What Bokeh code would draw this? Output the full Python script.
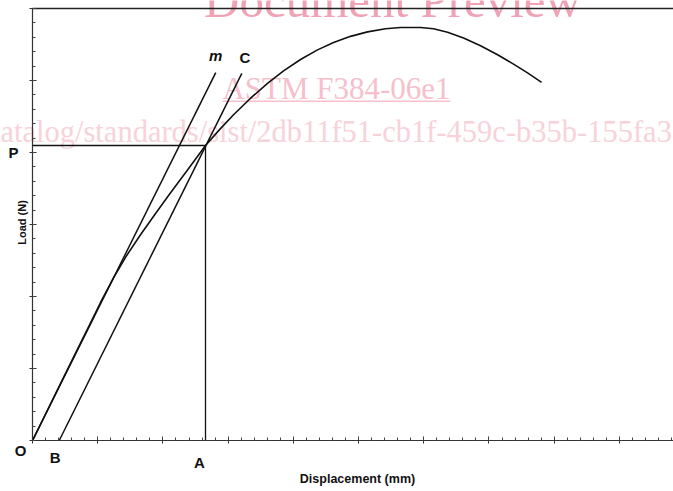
import math
from bokeh.plotting import figure
from bokeh.models import Label, SingleIntervalTicker, FixedTicker, LinearAxis, BoxAnnotation
from bokeh.embed import file_html
from bokeh.resources import INLINE

# ---- data ----
# load-displacement curve
disp = [0, 0.215, 0.429, 0.660, 0.890, 1.043, 1.242, 1.442, 1.656, 1.887, 2.117,
        2.377, 2.653, 2.868, 3.083, 3.344, 3.604, 3.850, 4.110, 4.371, 4.617,
        4.877, 5.138, 5.414, 5.644, 5.951, 6.150, 6.365, 6.610, 6.871, 7.132,
        7.377, 7.592, 7.807]
load = [0, 0.394, 0.789, 1.213, 1.635, 1.917, 2.260, 2.567, 2.858, 3.154, 3.442,
        3.756, 4.097, 4.318, 4.524, 4.754, 4.961, 5.133, 5.292, 5.425, 5.528,
        5.613, 5.675, 5.718, 5.736, 5.736, 5.718, 5.671, 5.590, 5.482, 5.357,
        5.228, 5.106, 4.975]

# tangent line m (through O) and offset line C (through B, parallel to m)
m_x = [0.0, 2.81]
m_y = [0.0, 5.11]
c_x = [0.41, 3.21]
c_y = [0.0, 5.10]

# point where C meets the curve
A_x = 2.653
P_y = 4.097

x_max = 9.83   # right end of the displacement axis
y_max = 6      # top of the load axis

INK = "#111111"
FONT = "Liberation Sans"
SERIF = "Liberation Serif"

p = figure(width=673, height=491,
           x_range=(-0.491, x_max), y_range=(-0.708, 6.111),
           output_backend="svg", toolbar_location=None,
           min_border_left=0, min_border_right=0, min_border_top=0,
           min_border_bottom=0)
p.background_fill_color = "white"
p.border_fill_color = "white"
p.outline_line_color = None
p.xgrid.visible = False
p.ygrid.visible = False

xa = p.xaxis[0]
ya = p.yaxis[0]
xa.fixed_location = 0
xa.bounds = (0, x_max)
ya.fixed_location = 0
ya.bounds = (0, y_max)
for ax in (xa, ya):
    ax.ticker = SingleIntervalTicker(interval=1, num_minor_ticks=5)
    ax.axis_line_color = "#333333"
    ax.axis_line_width = 1.2
    ax.major_tick_line_color = "#333333"
    ax.minor_tick_line_color = "#444444"
    ax.major_tick_in = 4
    ax.major_tick_out = 3
    ax.minor_tick_in = 3
    ax.minor_tick_out = 0
    ax.major_label_text_color = None

# top border line
top = LinearAxis(fixed_location=y_max, bounds=(0, x_max), ticker=FixedTicker(ticks=[]),
                 axis_line_color="#222222", axis_line_width=1.4,
                 major_tick_line_color=None, minor_tick_line_color=None,
                 major_label_text_color=None)
p.add_layout(top, "above")

# ---- watermark (beneath the drawing) ----
wm = [
    ("Document Preview", 392, 491, "49px", "#f0a3b5", "center"),
    ("ASTM F384-06e1", 336, 403, "31px", "#f5c0cc", "center"),
    ("atalog/standards/sist/2db11f51-cb1f-459c-b35b-155fa3", 0, 360, "30.5px", "#f8d2da", "left"),
]
for txt, sx, sy, size, col, al in wm:
    p.add_layout(Label(x=sx, y=sy, x_units="screen", y_units="screen", text=txt,
                       text_font=SERIF, text_font_size=size, text_color=col,
                       text_align=al, text_baseline="middle", level="underlay"))
p.add_layout(BoxAnnotation(left=222, right=450, bottom=389.5, top=391,
                           left_units="screen", right_units="screen",
                           bottom_units="screen", top_units="screen",
                           fill_color="#f5c0cc", fill_alpha=1, line_color=None,
                           level="underlay"))

# ---- drawing ----
p.line(disp, load, line_color=INK, line_width=1.6)
p.line(m_x, m_y, line_color=INK, line_width=1.5)
p.line(c_x, c_y, line_color=INK, line_width=1.5)
p.line([0, A_x], [P_y, P_y], line_color=INK, line_width=1.3)
p.line([A_x, A_x], [0, P_y], line_color=INK, line_width=1.3)

# ---- labels ----
def lab(x, y, text, dx, dy, size="14px", style="bold"):
    p.add_layout(Label(x=x, y=y, text=text, x_offset=dx, y_offset=dy,
                       text_font=FONT, text_font_size=size, text_font_style=style,
                       text_color=INK, text_align="center", text_baseline="middle"))

lab(m_x[1], m_y[1], "m", 0, 17, size="15px", style="bold italic")
lab(c_x[1], c_y[1], "C", 3, 16, size="15px")
lab(0, P_y, "P", -19, -7, size="15px")
lab(0, 0, "O", -12, -10, size="15px")
lab(c_x[0], 0, "B", -4, -17, size="15px")
lab(A_x, 0, "A", -6, -22, size="15px")

p.add_layout(Label(x=357, y=13, x_units="screen", y_units="screen",
                   text="Displacement (mm)", text_font=FONT, text_font_size="12.5px",
                   text_font_style="bold", text_color=INK, text_align="center",
                   text_baseline="middle"))
p.add_layout(Label(x=21, y=269, x_units="screen", y_units="screen",
                   text="Load (N)", text_font=FONT, text_font_size="11px",
                   text_font_style="bold", text_color=INK, text_align="center",
                   text_baseline="middle", angle=math.pi / 2))

open("out.html", "w").write(file_html(p, INLINE))
